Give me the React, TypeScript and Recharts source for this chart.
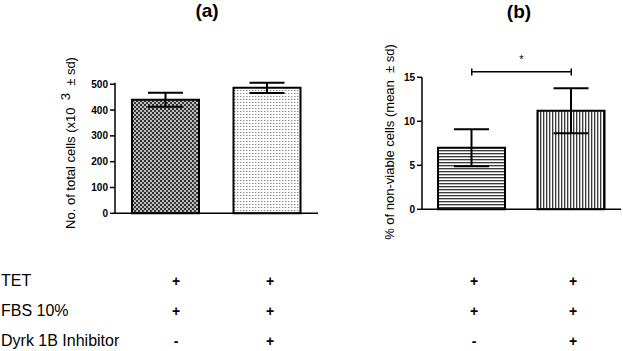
import React from "react"
import { Bar, BarChart, Cell, ErrorBar, ReferenceLine, XAxis, YAxis } from "recharts"

const groups = ["TET + FBS 10%", "TET + FBS 10% + Dyrk 1B Inhibitor"]
const totalCellsMean = [440, 486]
const totalCellsSd = [27, 20]
const nonViableMean = [7.0, 11.2]
const nonViableSd = [2.1, 2.55]
const totalTicks = [0, 100, 200, 300, 400, 500]
const nonViableTicks = [0, 5, 10, 15]
const rowLabels = ["TET", "FBS 10%", "Dyrk 1B Inhibitor"]
const rowSigns = [
    ["+", "+", "+", "+"],
    ["+", "+", "+", "+"],
    ["-", "+", "-", "+"],
]

const FONT = "Arial, 'Liberation Sans', sans-serif"
const fillsA = ["url(#checker)", "url(#dots)"]
const fillsB = ["url(#hlines)", "url(#vlines)"]
const signX = [176, 270, 474, 573]
const rowY = [281, 311, 341]

const dataA = groups.map((g, i) => ({ group: g, mean: totalCellsMean[i], sd: totalCellsSd[i] }))
const dataB = groups.map((g, i) => ({ group: g, mean: nonViableMean[i], sd: nonViableSd[i] }))

function Patterns() {
    return (
        <defs>
            <pattern id="checker" width={4} height={4} patternUnits="userSpaceOnUse">
                <rect width={4} height={4} fill="#bdbdbd" />
                <rect x={0} y={0} width={2} height={2} fill="#2e2e2e" />
                <rect x={2} y={2} width={2} height={2} fill="#3c3c3c" />
            </pattern>
            <pattern id="dots" width={3} height={3} patternUnits="userSpaceOnUse">
                <rect width={3} height={3} fill="#fff" />
                <rect x={0} y={0} width={1} height={1} fill="#8a8a8a" />
                <rect x={1} y={0} width={1} height={1} fill="#cfcfcf" />
            </pattern>
            <pattern id="hlines" width={4} height={3} patternUnits="userSpaceOnUse">
                <rect width={4} height={3} fill="#fff" />
                <rect x={0} y={0} width={4} height={1} fill="#3a3a3a" />
                <rect x={0} y={1} width={4} height={1} fill="#bbb" />
            </pattern>
            <pattern id="vlines" width={3} height={4} patternUnits="userSpaceOnUse">
                <rect width={3} height={4} fill="#fff" />
                <rect x={0} y={0} width={1} height={4} fill="#3a3a3a" />
                <rect x={1} y={0} width={1} height={4} fill="#bbb" />
            </pattern>
        </defs>
    )
}

const axisLine = { stroke: "#000", strokeWidth: 1.5 }
const tickStyle = { fill: "#000", fontSize: 10, fontWeight: 700, fontFamily: FONT }

export default function App() {
    return (
        <div style={{ position: "absolute", left: 0, top: 0, width: 623, height: 351, background: "#fff", fontFamily: FONT }}>
            <div style={{ position: "absolute", left: 0, top: 0 }}>
                <BarChart width={330} height={260} data={dataA} margin={{ top: 82.7, right: 12, bottom: 36.7, left: 0 }}>
                    <Patterns />
                    <XAxis dataKey="group" height={10} tick={false} tickSize={4} tickLine={{ stroke: "#000" }} axisLine={axisLine} />
                    <YAxis
                        width={115}
                        domain={[0, 500]}
                        ticks={totalTicks}
                        tickSize={5}
                        tickMargin={2}
                        tick={tickStyle}
                        tickLine={{ stroke: "#000", strokeWidth: 1.5 }}
                        axisLine={axisLine}
                        label={{
                            content: () => (
                                <text transform="translate(75,143) rotate(-90)" textAnchor="middle" fontSize={13} fontFamily={FONT} fill="#000">
                                    No. of total cells (x10
                                    <tspan dy={-5}>{"\u00a0\u00a03"}</tspan>
                                    <tspan dy={5}>{"\u00a0\u00a0± sd)"}</tspan>
                                </text>
                            ),
                        }}
                    />
                    <Bar dataKey="mean" barSize={67} stroke="#000" strokeWidth={2} isAnimationActive={false}>
                        {dataA.map((d, i) => (
                            <Cell key={d.group} fill={fillsA[i]} />
                        ))}
                        <ErrorBar dataKey="sd" width={17.5} stroke="#000" strokeWidth={2} direction="y" isAnimationActive={false} />
                    </Bar>
                </BarChart>
            </div>
            <div style={{ position: "absolute", left: 330, top: 0 }}>
                <BarChart width={293} height={260} data={dataB} margin={{ top: 77.3, right: 2, bottom: 40.7, left: 0 }}>
                    <Patterns />
                    <XAxis dataKey="group" height={10} tick={false} tickSize={4} tickLine={{ stroke: "#000" }} axisLine={axisLine} />
                    <YAxis
                        width={92}
                        domain={[0, 15]}
                        ticks={nonViableTicks}
                        tickSize={5}
                        tickMargin={2}
                        tick={tickStyle}
                        tickLine={{ stroke: "#000", strokeWidth: 1.5 }}
                        axisLine={axisLine}
                        label={{
                            content: () => (
                                <text transform="translate(64,142) rotate(-90)" textAnchor="middle" fontSize={13} fontFamily={FONT} fill="#000">
                                    {"% of non-viable cells (mean\u00a0\u00a0± sd)"}
                                </text>
                            ),
                        }}
                    />
                    <Bar dataKey="mean" barSize={67} stroke="#000" strokeWidth={2} isAnimationActive={false}>
                        {dataB.map((d, i) => (
                            <Cell key={d.group} fill={fillsB[i]} />
                        ))}
                        <ErrorBar dataKey="sd" width={17.5} stroke="#000" strokeWidth={2} direction="y" isAnimationActive={false} />
                    </Bar>
                    <ReferenceLine
                        segment={[{ x: groups[0], y: 15.64 }, { x: groups[1], y: 15.64 }]}
                        stroke="#000"
                        strokeWidth={1.5}
                        ifOverflow="visible"
                        label={{ value: "*", position: "top", offset: 9, fontSize: 11, fill: "#000" }}
                    />
                    <ReferenceLine segment={[{ x: groups[0], y: 15.2 }, { x: groups[0], y: 16.0 }]} stroke="#000" strokeWidth={1.5} ifOverflow="visible" />
                    <ReferenceLine segment={[{ x: groups[1], y: 15.2 }, { x: groups[1], y: 16.0 }]} stroke="#000" strokeWidth={1.5} ifOverflow="visible" />
                </BarChart>
            </div>
            <div style={{ position: "absolute", left: 207, top: 11, transform: "translate(-50%,-50%)", fontSize: 19, fontWeight: 700 }}>(a)</div>
            <div style={{ position: "absolute", left: 519, top: 12, transform: "translate(-50%,-50%)", fontSize: 19, fontWeight: 700 }}>(b)</div>
            {rowLabels.map((label, r) => (
                <React.Fragment key={label}>
                    <div style={{ position: "absolute", left: 1, top: rowY[r], transform: "translateY(-50%)", fontSize: 16, whiteSpace: "nowrap" }}>
                        {label}
                    </div>
                    {rowSigns[r].map((s, c) => (
                        <div
                            key={c}
                            style={{ position: "absolute", left: signX[c], top: rowY[r], transform: "translate(-50%,-50%)", fontSize: 14, fontWeight: 700 }}
                        >
                            {s}
                        </div>
                    ))}
                </React.Fragment>
            ))}
        </div>
    )
}
